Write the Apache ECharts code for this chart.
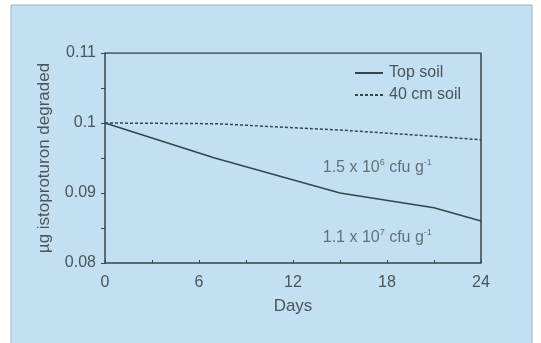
<!DOCTYPE html>
<html>
<head>
<meta charset="utf-8">
<script src="https://cdn.jsdelivr.net/npm/echarts@6/dist/echarts.min.js"></script>
<style>
  html, body { margin: 0; padding: 0; background: #ffffff; }
  #chart { width: 541px; height: 343px; }
</style>
</head>
<body>
<div id="chart"></div>
<script>
// Isoproturon degradation over time in two soil depths
const days = [0, 7, 15, 21, 24];
const topSoil = [0.1, 0.095, 0.090, 0.0879, 0.086];
const soil40cm = [0.1, 0.0999, 0.0990, 0.0981, 0.0976];
const seriesNames = ['Top soil', '40 cm soil'];
const xTicks = [0, 6, 12, 18, 24];
const yTicks = [0.08, 0.09, 0.1, 0.11];

const ink = '#34454b';
const textColor = '#4a5558';
const font = 'Liberation Sans, Arial, sans-serif';

const chart = echarts.init(document.getElementById('chart'), null, { renderer: 'canvas' });

const pairs = (xs, ys) => xs.map((d, i) => [d, ys[i]]);

chart.setOption({
  animation: false,
  backgroundColor: '#ffffff',
  graphic: [
    {
      type: 'rect',
      z: -10,
      shape: { x: 11, y: 5, width: 521, height: 345 },
      style: { fill: '#c3dff2', stroke: '#9fb3bf', lineWidth: 1 }
    }
  ],
  grid: { left: 105, right: 60, top: 53, bottom: 80, containLabel: false },
  legend: {
    left: 349,
    top: 60,
    orient: 'vertical',
    itemWidth: 28,
    itemHeight: 10,
    itemGap: 6,
    itemStyle: { opacity: 0 },
    textStyle: { color: textColor, fontFamily: font, fontSize: 16, padding: [0, 0, 0, 1] },
    data: seriesNames
  },
  xAxis: {
    type: 'value',
    min: 0,
    max: 24,
    interval: 6,
    name: 'Days',
    nameLocation: 'middle',
    nameGap: 35,
    nameTextStyle: { color: textColor, fontFamily: font, fontSize: 17 },
    axisLine: { show: true, lineStyle: { color: ink, width: 1.5 } },
    axisTick: { show: true, inside: true, length: 3, lineStyle: { color: ink } },
    minorTick: { show: true, splitNumber: 2, length: 3, lineStyle: { color: ink } },
    axisLabel: {
      color: textColor, fontFamily: font, fontSize: 16, margin: 12,
      formatter: v => (xTicks.includes(v) ? String(v) : '')
    },
    splitLine: { show: false }
  },
  yAxis: {
    type: 'value',
    min: 0.08,
    max: 0.11,
    interval: 0.01,
    name: 'µg istoproturon degraded',
    nameLocation: 'middle',
    nameGap: 52,
    nameRotate: 90,
    nameTextStyle: { color: textColor, fontFamily: font, fontSize: 17 },
    axisLine: { show: true, lineStyle: { color: ink, width: 1.5 } },
    axisTick: { show: true, length: 4, lineStyle: { color: ink } },
    minorTick: { show: true, splitNumber: 2, length: 4, lineStyle: { color: ink } },
    axisLabel: {
      color: textColor, fontFamily: font, fontSize: 16, margin: 9,
      formatter: v => {
        const t = yTicks.find(y => Math.abs(y - v) < 1e-9);
        return t === undefined ? '' : String(t);
      }
    },
    splitLine: { show: false }
  },
  series: [
    {
      name: seriesNames[0],
      type: 'line',
      data: pairs(days, topSoil),
      symbol: 'none',
      lineStyle: { color: ink, width: 1.5 },
      itemStyle: { color: ink }
    },
    {
      name: seriesNames[1],
      type: 'line',
      data: pairs(days, soil40cm),
      symbol: 'none',
      lineStyle: { color: ink, width: 1.5, type: [3, 2] },
      itemStyle: { color: ink }
    },
    {
      // top and right frame of the plot box
      type: 'line',
      data: [[0, 0.11], [24, 0.11], [24, 0.08]],
      symbol: 'none',
      silent: true,
      lineStyle: { color: ink, width: 1.5 }
    },
    {
      type: 'scatter',
      data: [[13.9, 0.0937], [13.9, 0.0836]],
      symbolSize: 0,
      silent: true,
      label: {
        show: true,
        position: 'right',
        distance: 0,
        fontFamily: font,
        color: textColor,
        formatter: p => (p.dataIndex === 0
          ? '{n|1.5 x 10}{s|6}{n| cfu g}{s|-1}'
          : '{n|1.1 x 10}{s|7}{n| cfu g}{s|-1}'),
        rich: {
          n: { fontSize: 16, color: textColor, fontFamily: font },
          s: { fontSize: 9, color: textColor, fontFamily: font, verticalAlign: 'top', padding: [0, 0, 10, 0] }
        }
      }
    }
  ]
});
</script>
</body>
</html>
